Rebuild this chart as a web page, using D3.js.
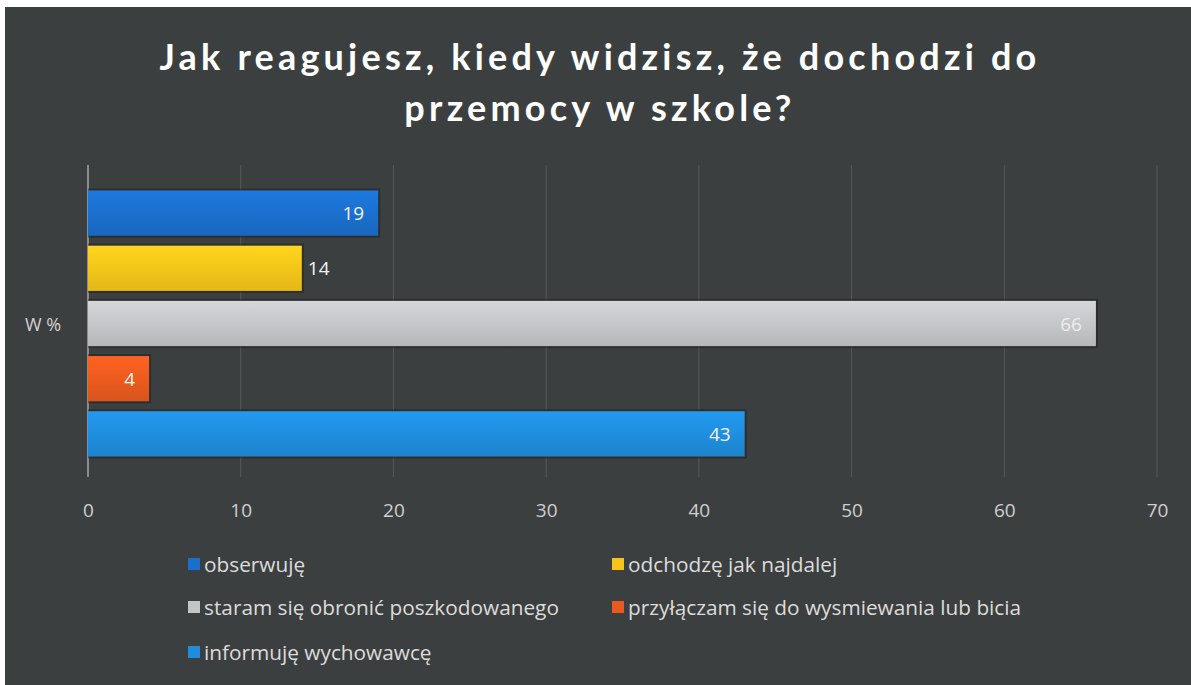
<!DOCTYPE html>
<html>
<head>
<meta charset="utf-8">
<script src="https://cdn.jsdelivr.net/npm/d3@7"></script>
<style>
  body { margin: 0; background: #fff; }
  svg { display: block; }
</style>
</head>
<body>
<div id="chart"></div>
<script>
// Chart data
const category = "W %";
const seriesNames = [
  "obserwuję",
  "odchodzę jak najdalej",
  "staram się obronić poszkodowanego",
  "przyłączam się do wysmiewania lub bicia",
  "informuję wychowawcę"
];
const seriesValues = [19, 14, 66, 4, 43];
const seriesColors = ["#1b6fcc", "#f6c41a", "#c3c5c7", "#e95a1e", "#1f8ddc"];
const labelOutside = [false, true, false, false, false];
const xTicks = [0, 10, 20, 30, 40, 50, 60, 70];
const titleLines = ["Jak reagujesz, kiedy widzisz, że dochodzi do", "przemocy w szkole?"];

const width = 1191;
const height = 685;
const margin = { top: 170, right: 34, bottom: 208, left: 88 };

const svg = d3.select("#chart")
  .append("svg")
  .attr("width", width)
  .attr("height", height)
  .style("font-family", "'Open Sans', sans-serif");

// bar gradients
const defs = svg.append("defs");
seriesColors.forEach((c, i) => {
  const g = defs.append("linearGradient")
    .attr("id", "grad" + i)
    .attr("x1", 0).attr("y1", 0).attr("x2", 0).attr("y2", 1);
  g.append("stop").attr("offset", "0%").attr("stop-color", d3.color(c).brighter(0.25));
  g.append("stop").attr("offset", "100%").attr("stop-color", d3.color(c).darker(0.2));
});

// background
svg.append("rect")
  .attr("x", 5).attr("y", 7)
  .attr("width", width - 5).attr("height", height - 7)
  .attr("fill", "#3c3f3f");

// title
svg.append("g")
  .selectAll("text")
  .data(titleLines)
  .join("text")
  .attr("x", 600)
  .attr("y", (d, i) => 70 + i * 51)
  .attr("text-anchor", "middle")
  .attr("fill", "#ffffff")
  .attr("font-size", "36px")
  .attr("font-weight", "bold")
  .attr("letter-spacing", "4.2px")
  .style("font-family", "Lato, sans-serif")
  .text(d => d);

const x = d3.scaleLinear()
  .domain([0, 70])
  .range([margin.left, width - margin.right]);

const y = d3.scaleBand()
  .domain([category])
  .range([margin.top, height - margin.bottom])
  .paddingInner(0)
  .paddingOuter(0.077);

const yInner = d3.scaleBand()
  .domain(seriesNames)
  .range([0, y.bandwidth()])
  .paddingInner(0.18);

// grid
svg.append("g")
  .selectAll("line")
  .data(xTicks.slice(1))
  .join("line")
  .attr("x1", d => x(d)).attr("x2", d => x(d))
  .attr("y1", margin.top - 5).attr("y2", height - margin.bottom)
  .attr("stroke", "#575a5a")
  .attr("stroke-width", 1);

// category axis line
svg.append("line")
  .attr("x1", x(0)).attr("x2", x(0))
  .attr("y1", margin.top - 5).attr("y2", height - margin.bottom)
  .attr("stroke", "#a6a8a8")
  .attr("stroke-width", 1.5);

svg.append("text")
  .attr("x", 43)
  .attr("y", y(category) + y.bandwidth() / 2 + 7)
  .attr("text-anchor", "middle")
  .attr("fill", "#d2d2d2")
  .attr("font-size", "18px")
  .text(category);

// bars
const barG = svg.append("g");
const bars = seriesNames.map((name, i) => ({ name, value: seriesValues[i], i }));

barG.selectAll("rect.shadow")
  .data(bars)
  .join("rect")
  .attr("class", "shadow")
  .attr("x", x(0))
  .attr("y", d => y(category) + yInner(d.name) - 2)
  .attr("width", d => x(d.value) - x(0) + 2)
  .attr("height", yInner.bandwidth() + 4)
  .attr("fill", "#1e2020")
  .attr("opacity", 0.5);

barG.selectAll("rect.bar")
  .data(bars)
  .join("rect")
  .attr("class", "bar")
  .attr("x", x(0))
  .attr("y", d => y(category) + yInner(d.name))
  .attr("width", d => x(d.value) - x(0))
  .attr("height", yInner.bandwidth())
  .attr("fill", d => `url(#grad${d.i})`);

barG.selectAll("text")
  .data(bars)
  .join("text")
  .attr("x", d => labelOutside[d.i] ? x(d.value) + 6 : x(d.value) - 14)
  .attr("y", d => y(category) + yInner(d.name) + yInner.bandwidth() / 2 + 7)
  .attr("text-anchor", d => labelOutside[d.i] ? "start" : "end")
  .attr("fill", d => d.i === 2 ? "#eeeeee" : "#f4f4f4")
  .attr("font-size", "19px")
  .text(d => d.value);

// x axis
const xAxis = g => g
  .attr("transform", `translate(0,${height - margin.bottom})`)
  .call(d3.axisBottom(x).tickValues(xTicks).tickSize(0).tickPadding(27))
  .call(g => g.select(".domain").remove())
  .call(g => g.selectAll("text")
    .attr("fill", "#cfcfcf")
    .style("font-size", "19px")
    .style("font-family", "'Open Sans', sans-serif"));

svg.append("g").call(xAxis);

// legend
const legendPos = [
  [188, 566], [612, 566],
  [188, 609], [612, 609],
  [188, 654]
];
const legend = svg.append("g")
  .selectAll("g")
  .data(bars)
  .join("g")
  .attr("transform", d => `translate(${legendPos[d.i][0]},${legendPos[d.i][1]})`);

legend.append("rect")
  .attr("x", 0).attr("y", -8)
  .attr("width", 12).attr("height", 12)
  .attr("fill", d => seriesColors[d.i]);

legend.append("text")
  .attr("x", 16)
  .attr("y", 6)
  .attr("fill", "#dcdcdc")
  .attr("font-size", "20.8px")
  .text(d => d.name);
</script>
</body>
</html>
